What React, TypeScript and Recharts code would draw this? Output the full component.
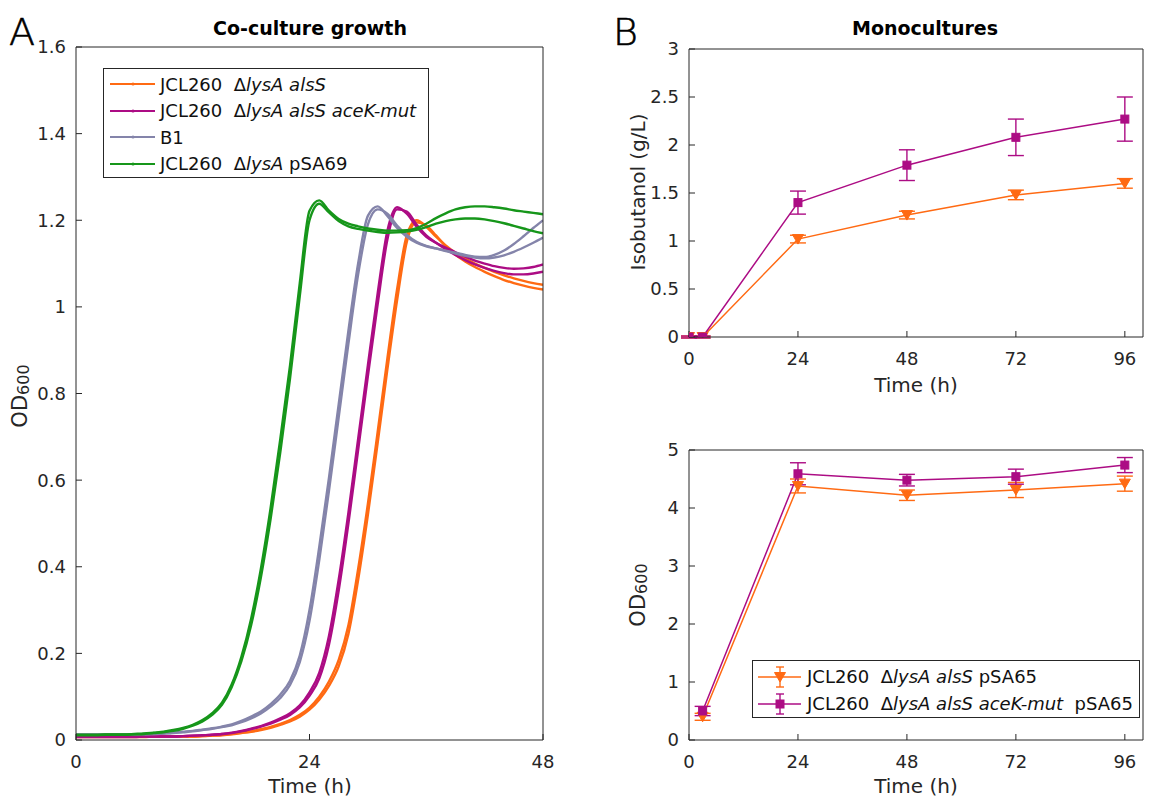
import React from 'react';
import { LineChart, Line, XAxis, YAxis, ErrorBar } from 'recharts';

// Panel A: co-culture growth curves, two replicate traces per strain (OD600)
const hours = [
    0, 1, 2, 3, 4, 5, 6, 7, 8, 9, 10, 11, 12, 13, 14, 15, 16, 17, 18, 19, 20, 21, 22, 23, 24,
    25, 26, 27, 28, 29, 30, 31, 32, 33, 34, 35, 36, 37, 38, 39, 40, 41, 42, 43, 44, 45, 46, 47, 48,
];
const alsS1 = [
    0.008, 0.008, 0.008, 0.008, 0.008, 0.008, 0.008, 0.008, 0.008, 0.008, 0.008, 0.008, 0.008,
    0.009, 0.01, 0.012, 0.014, 0.017, 0.02, 0.025, 0.03, 0.037, 0.046, 0.058, 0.075, 0.1, 0.135,
    0.185, 0.265, 0.395, 0.545, 0.71, 0.88, 1.04, 1.165, 1.2, 1.185, 1.162, 1.142, 1.125, 1.112,
    1.1, 1.09, 1.081, 1.073, 1.066, 1.06, 1.055, 1.051,
];
const alsS2 = [
    0.007, 0.007, 0.007, 0.007, 0.007, 0.007, 0.007, 0.007, 0.008, 0.008, 0.008, 0.008, 0.008,
    0.009, 0.01, 0.011, 0.013, 0.016, 0.019, 0.023, 0.028, 0.035, 0.043, 0.054, 0.07, 0.093, 0.125,
    0.17, 0.245, 0.37, 0.52, 0.685, 0.855, 1.015, 1.15, 1.195, 1.188, 1.165, 1.14, 1.12, 1.105,
    1.092, 1.081, 1.071, 1.062, 1.055, 1.049, 1.044, 1.04,
];
const aceK1 = [
    0.008, 0.008, 0.008, 0.008, 0.008, 0.008, 0.008, 0.008, 0.008, 0.008, 0.008, 0.009, 0.01,
    0.011, 0.012, 0.014, 0.017, 0.021, 0.026, 0.032, 0.04, 0.05, 0.062, 0.08, 0.11, 0.155, 0.24,
    0.37, 0.525, 0.695, 0.865, 1.03, 1.175, 1.23, 1.215, 1.185, 1.162, 1.148, 1.137, 1.126, 1.116,
    1.107, 1.1, 1.094, 1.09, 1.088, 1.089, 1.092, 1.098,
];
const aceK2 = [
    0.007, 0.007, 0.007, 0.007, 0.007, 0.007, 0.007, 0.008, 0.008, 0.008, 0.008, 0.009, 0.01,
    0.011, 0.012, 0.014, 0.016, 0.02, 0.025, 0.031, 0.038, 0.047, 0.058, 0.075, 0.102, 0.142, 0.22,
    0.345, 0.5, 0.67, 0.84, 1.005, 1.155, 1.225, 1.22, 1.19, 1.165, 1.148, 1.133, 1.12, 1.108,
    1.098, 1.09, 1.083, 1.078, 1.075, 1.075, 1.077, 1.081,
];
const b1Rep1 = [
    0.012, 0.012, 0.012, 0.012, 0.012, 0.013, 0.013, 0.013, 0.014, 0.015, 0.017, 0.019, 0.021,
    0.024, 0.027, 0.031, 0.036, 0.044, 0.054, 0.066, 0.083, 0.105, 0.137, 0.195, 0.3, 0.445, 0.605,
    0.775, 0.945, 1.1, 1.21, 1.232, 1.21, 1.182, 1.162, 1.148, 1.14, 1.135, 1.13, 1.125, 1.12,
    1.116, 1.115, 1.12, 1.13, 1.145, 1.163, 1.182, 1.2,
];
const b1Rep2 = [
    0.013, 0.013, 0.013, 0.013, 0.013, 0.013, 0.013, 0.014, 0.014, 0.015, 0.016, 0.018, 0.02,
    0.023, 0.026, 0.03, 0.034, 0.041, 0.05, 0.061, 0.077, 0.097, 0.127, 0.18, 0.275, 0.415, 0.575,
    0.745, 0.915, 1.075, 1.19, 1.225, 1.215, 1.188, 1.166, 1.15, 1.141, 1.135, 1.129, 1.123, 1.118,
    1.114, 1.112, 1.114, 1.119, 1.127, 1.137, 1.148, 1.16,
];
const pSA69Rep1 = [
    0.012, 0.012, 0.012, 0.013, 0.013, 0.013, 0.014, 0.015, 0.017, 0.019, 0.023, 0.028, 0.035,
    0.046, 0.062, 0.086, 0.128, 0.192, 0.28, 0.395, 0.535, 0.695, 0.865, 1.055, 1.222, 1.246, 1.222,
    1.203, 1.192, 1.186, 1.181, 1.178, 1.176, 1.176, 1.177, 1.182, 1.192, 1.205, 1.216, 1.225, 1.23,
    1.232, 1.232, 1.23, 1.227, 1.223, 1.22, 1.217, 1.214,
];
const pSA69Rep2 = [
    0.011, 0.011, 0.011, 0.012, 0.012, 0.012, 0.013, 0.014, 0.016, 0.018, 0.021, 0.026, 0.033,
    0.043, 0.058, 0.081, 0.122, 0.182, 0.265, 0.375, 0.51, 0.665, 0.835, 1.025, 1.2, 1.238, 1.218,
    1.198, 1.186, 1.18, 1.176, 1.173, 1.171, 1.172, 1.174, 1.178, 1.184, 1.192, 1.198, 1.202, 1.204,
    1.204, 1.202, 1.198, 1.193, 1.187, 1.181, 1.175, 1.17,
];
const coXTicks = [0, 24, 48];
const coYTicks = [0, 0.2, 0.4, 0.6, 0.8, 1, 1.2, 1.4, 1.6];

// Panel B: monocultures, mean and error per sampling time
const isoTimes = [0, 3, 24, 48, 72, 96];
const isoAlsS = [0, 0, 1.02, 1.27, 1.48, 1.6];
const isoAlsSErr = [0.01, 0.01, 0.04, 0.04, 0.05, 0.05];
const isoAceK = [0, 0, 1.4, 1.79, 2.08, 2.27];
const isoAceKErr = [0.01, 0.01, 0.12, 0.16, 0.19, 0.23];

const odTimes = [3, 24, 48, 72, 96];
const odAlsS = [0.4, 4.38, 4.22, 4.31, 4.42];
const odAlsSErr = [0.06, 0.12, 0.09, 0.13, 0.13];
const odAceK = [0.5, 4.59, 4.48, 4.54, 4.74];
const odAceKErr = [0.08, 0.19, 0.1, 0.13, 0.13];

const monoXTicks = [0, 24, 48, 72, 96];
const isoYTicks = [0, 0.5, 1, 1.5, 2, 2.5, 3];
const odYTicks = [0, 1, 2, 3, 4, 5];

const ORANGE = '#FF6A13';
const MAGENTA = '#AC0C84';
const GRAY = '#8484AA';
const GREEN = '#16961A';
const AXIS = '#262626';
const FONT = '"DejaVu Sans", "Liberation Sans", sans-serif';

const coData = hours.map((t, i) => ({
    t,
    alsS1: alsS1[i],
    alsS2: alsS2[i],
    aceK1: aceK1[i],
    aceK2: aceK2[i],
    b1a: b1Rep1[i],
    b1b: b1Rep2[i],
    p69a: pSA69Rep1[i],
    p69b: pSA69Rep2[i],
}));

const isoData = isoTimes.map((t, i) => ({
    t,
    a: isoAlsS[i],
    aErr: isoAlsSErr[i],
    k: isoAceK[i],
    kErr: isoAceKErr[i],
}));

const odData = odTimes.map((t, i) => ({
    t,
    a: odAlsS[i],
    aErr: odAlsSErr[i],
    k: odAceK[i],
    kErr: odAceKErr[i],
}));

const tickStyle = { fontSize: 18, fill: AXIS, fontFamily: FONT };

// boxed MATLAB-like frame: ticks inside, labels on bottom/left only
// (axes need a size of at least 1px or recharts skips drawing them)
function frame(xTicks: number[], xDomain: [number, number], yTicks: number[], yDomain: [number, number]) {
    return [
        <XAxis key="xb" xAxisId="b" type="number" dataKey="t" domain={xDomain} ticks={xTicks} interval={0}
            allowDataOverflow height={1} tickSize={-6} tickMargin={21} tick={tickStyle} stroke={AXIS} />,
        <XAxis key="xt" xAxisId="t" orientation="top" type="number" dataKey="t" domain={xDomain} ticks={xTicks}
            interval={0} allowDataOverflow height={1} tickSize={-6} tick={false} stroke={AXIS} />,
        <YAxis key="yl" yAxisId="l" type="number" domain={yDomain} ticks={yTicks} interval={0}
            allowDataOverflow width={1} tickSize={-6} tickMargin={16} tick={tickStyle} stroke={AXIS} />,
        <YAxis key="yr" yAxisId="r" orientation="right" type="number" domain={yDomain} ticks={yTicks}
            interval={0} allowDataOverflow width={1} tickSize={-6} tick={false} stroke={AXIS} />,
    ];
}

const Triangle = ({ cx, cy, color }: { cx?: number; cy?: number; color: string }) => {
    if (cx == null || cy == null) return null;
    return <path d={`M${cx - 5.5},${cy - 4.5} L${cx + 5.5},${cy - 4.5} L${cx},${cy + 5} Z`} fill={color} stroke={color} />;
};

const Square = ({ cx, cy, color }: { cx?: number; cy?: number; color: string }) => {
    if (cx == null || cy == null) return null;
    return <rect x={cx - 4} y={cy - 4} width={8} height={8} fill={color} stroke={color} />;
};

const monoLines = [
    <Line key="a" xAxisId="b" yAxisId="l" dataKey="a" stroke={ORANGE} strokeWidth={1.5} isAnimationActive={false}
        dot={(p: any) => <Triangle key={`a${p.index}`} cx={p.cx} cy={p.cy} color={ORANGE} />}>
        <ErrorBar dataKey="aErr" direction="y" width={8} stroke={ORANGE} strokeWidth={1.4} />
    </Line>,
    <Line key="k" xAxisId="b" yAxisId="l" dataKey="k" stroke={MAGENTA} strokeWidth={1.5} isAnimationActive={false}
        dot={(p: any) => <Square key={`k${p.index}`} cx={p.cx} cy={p.cy} color={MAGENTA} />}>
        <ErrorBar dataKey="kErr" direction="y" width={8} stroke={MAGENTA} strokeWidth={1.4} />
    </Line>,
];

const coSeries = [
    { key: 'alsS1', color: ORANGE },
    { key: 'alsS2', color: ORANGE },
    { key: 'aceK1', color: MAGENTA },
    { key: 'aceK2', color: MAGENTA },
    { key: 'b1a', color: GRAY },
    { key: 'b1b', color: GRAY },
    { key: 'p69a', color: GREEN },
    { key: 'p69b', color: GREEN },
];

const LegendRow = ({ color, children }: { color: string; children: React.ReactNode }) => (
    <div style={{ display: 'flex', alignItems: 'center', height: 26.5 }}>
        <svg width={56} height={12} style={{ flex: 'none' }}>
            <line x1={6} y1={6} x2={51} y2={6} stroke={color} strokeWidth={2} />
            <circle cx={29} cy={6} r={1.6} fill={color} />
        </svg>
        <span style={{ whiteSpace: 'pre' }}>{children}</span>
    </div>
);

const MonoLegendRow = ({ color, square, children }: { color: string; square: boolean; children: React.ReactNode }) => (
    <div style={{ display: 'flex', alignItems: 'center', height: 27 }}>
        <svg width={54} height={26} style={{ flex: 'none' }}>
            <line x1={5} y1={13} x2={48} y2={13} stroke={color} strokeWidth={1.5} />
            <line x1={27} y1={3} x2={27} y2={23} stroke={color} strokeWidth={1.4} />
            <line x1={23} y1={3} x2={31} y2={3} stroke={color} strokeWidth={1.4} />
            <line x1={23} y1={23} x2={31} y2={23} stroke={color} strokeWidth={1.4} />
            {square ? <Square cx={27} cy={13} color={color} /> : <Triangle cx={27} cy={13} color={color} />}
        </svg>
        <span style={{ whiteSpace: 'pre' }}>{children}</span>
    </div>
);

export default function App() {
    return (
        <div style={{ position: 'absolute', left: 0, top: 0, width: 1159, height: 802, background: '#fff', fontFamily: FONT }}>
            <div style={{ position: 'absolute', left: 0, top: 0 }}>
                <LineChart width={560} height={802} data={coData} margin={{ top: 46, right: 16, bottom: 61, left: 75 }}>
                    {frame(coXTicks, [0, 48], coYTicks, [0, 1.6])}
                    {coSeries.map((s) => (
                        <Line key={s.key} xAxisId="b" yAxisId="l" type="monotone" dataKey={s.key} stroke={s.color}
                            strokeWidth={2.4} dot={false} isAnimationActive={false} />
                    ))}
                </LineChart>
            </div>
            <div style={{ position: 'absolute', left: 580, top: 0 }}>
                <LineChart width={579} height={400} data={isoData} margin={{ top: 48, right: 15, bottom: 62, left: 108 }}>
                    {frame(monoXTicks, [0, 100], isoYTicks, [0, 3])}
                    {monoLines}
                </LineChart>
            </div>
            <div style={{ position: 'absolute', left: 580, top: 400 }}>
                <LineChart width={579} height={402} data={odData} margin={{ top: 49, right: 15, bottom: 61, left: 108 }}>
                    {frame(monoXTicks, [0, 100], odYTicks, [0, 5])}
                    {monoLines}
                </LineChart>
            </div>

            <svg width={1159} height={802} style={{ position: 'absolute', left: 0, top: 0, pointerEvents: 'none' }} fontFamily={FONT}>
                <text x={9} y={45} fontSize={38} fontWeight={200} fill="#000" stroke="#000" strokeWidth={0.6}>A</text>
                <text x={613} y={45} fontSize={38} fontWeight={200} fill="#000" stroke="#000" strokeWidth={0.6}>B</text>
                <text x={310} y={35} fontSize={19} fontWeight="bold" textAnchor="middle" fill="#000">Co-culture growth</text>
                <text x={925} y={35} fontSize={19} fontWeight="bold" textAnchor="middle" fill="#000">Monocultures</text>
                <text x={310} y={793} fontSize={20} textAnchor="middle" fill={AXIS}>Time (h)</text>
                <text x={916} y={392} fontSize={20} textAnchor="middle" fill={AXIS}>Time (h)</text>
                <text x={916} y={793} fontSize={20} textAnchor="middle" fill={AXIS}>Time (h)</text>
                <text transform="translate(27,396) rotate(-90)" fontSize={21} textAnchor="middle" fill={AXIS}>
                    OD<tspan fontSize={16} dy={2}>600</tspan>
                </text>
                <text transform="translate(645,192) rotate(-90)" fontSize={20} textAnchor="middle" fill={AXIS}>
                    Isobutanol (g/L)
                </text>
                <text transform="translate(645,595) rotate(-90)" fontSize={21} textAnchor="middle" fill={AXIS}>
                    OD<tspan fontSize={16} dy={2}>600</tspan>
                </text>
            </svg>

            <div style={{
                position: 'absolute', left: 103, top: 68, width: 324, height: 106, border: `1px solid ${AXIS}`,
                background: '#fff', fontSize: 18, color: '#111', paddingTop: 2, boxSizing: 'content-box',
            }}>
                <LegendRow color={ORANGE}>JCL260  Δ<i>lysA alsS</i></LegendRow>
                <LegendRow color={MAGENTA}>JCL260  Δ<i>lysA alsS aceK-mut</i></LegendRow>
                <LegendRow color={GRAY}>B1</LegendRow>
                <LegendRow color={GREEN}>JCL260  Δ<i>lysA</i> pSA69</LegendRow>
            </div>

            <div style={{
                position: 'absolute', left: 752, top: 660, width: 386, height: 54, border: `1px solid ${AXIS}`,
                background: '#fff', fontSize: 18, color: '#111', paddingTop: 2, boxSizing: 'content-box',
            }}>
                <MonoLegendRow color={ORANGE} square={false}>JCL260  Δ<i>lysA alsS</i> pSA65</MonoLegendRow>
                <MonoLegendRow color={MAGENTA} square>JCL260  Δ<i>lysA alsS aceK-mut</i>  pSA65</MonoLegendRow>
            </div>
        </div>
    );
}
